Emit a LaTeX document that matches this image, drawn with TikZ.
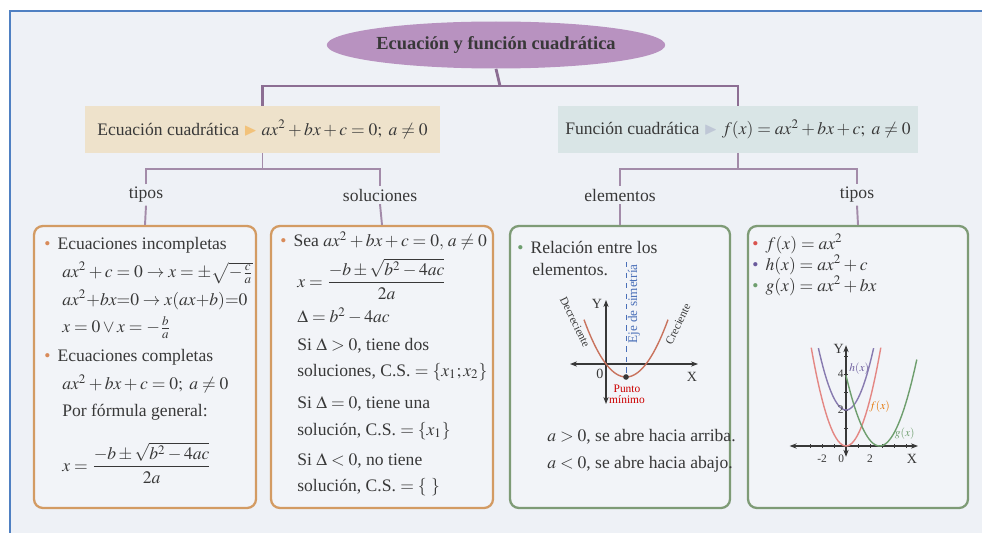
\documentclass[tikz,border=0pt]{standalone}
\usepackage{mathptmx}
\usepackage{amsmath}
\usepackage{amssymb}
\usepackage{fontspec}
\setmainfont{Liberation Serif}
\usepackage{xcolor}
\usetikzlibrary{arrows.meta, shapes.geometric, positioning}

\definecolor{paper}{HTML}{EEF1F6}
\definecolor{framec}{HTML}{4F80C2}
\definecolor{ink}{HTML}{383838}
\definecolor{titlec}{HTML}{B892C0}
\definecolor{linkc}{HTML}{8C6E93}
\definecolor{ecuc}{HTML}{EEE2CB}
\definecolor{func}{HTML}{D9E5E6}
\definecolor{orc}{HTML}{D39B63}
\definecolor{grc}{HTML}{7E9B76}
\definecolor{boxc}{HTML}{F2F4F8}
\definecolor{bulor}{HTML}{D98B5A}
\definecolor{bulgr}{HTML}{6E9E6E}
\definecolor{bulred}{HTML}{D9534F}
\definecolor{bulpu}{HTML}{6A5A9C}
\definecolor{mkor}{HTML}{F2C27A}
\definecolor{mkgr}{HTML}{BFC7D6}
\definecolor{parc}{HTML}{C9735E}
\definecolor{ejec}{HTML}{4A6FB8}

\tikzset{
  link/.style={draw=linkc, line width=1.6pt},
  link2/.style={draw=linkc!80, line width=1.1pt},
  titlenode/.style={ellipse, fill=titlec, minimum width=6.3cm, minimum height=0.94cm, inner sep=0pt,
    font=\fontsize{10.5}{12}\selectfont, text=ink},
  topbox/.style={minimum height=0.94cm, inner sep=0pt, font=\fontsize{10}{12}\selectfont, text=ink},
  lbl/.style={font=\fontsize{10}{12}\selectfont, text=ink, inner sep=1.5pt},
  orbox/.style={draw=orc, line width=1.3pt, rounded corners=5pt, fill=boxc,
    minimum width=4.44cm, minimum height=5.64cm, inner sep=0pt},
  grbox/.style={draw=grc, line width=1.3pt, rounded corners=5pt, fill=boxc,
    minimum width=4.4cm, minimum height=5.64cm, inner sep=0pt},
  txt/.style={font=\fontsize{10}{12}\selectfont, text=ink, anchor=west, inner sep=0pt},
  small/.style={font=\fontsize{6.5}{7}\selectfont, inner sep=0.5pt, text=ink},
  axlbl/.style={font=\fontsize{8}{9}\selectfont, inner sep=0.5pt, text=ink},
  axis/.style={draw=ink, line width=0.6pt},
}
\newcommand{\bul}[1]{\textcolor{#1}{\textbullet}\hspace{4pt}}

\begin{document}
\begin{tikzpicture}[x=0.02cm, y=-0.02cm]
\useasboundingbox (0,0) rectangle (982,533);
% Background
\fill[white] (0,0) rectangle (982,533);
\fill[paper] (10,11) rectangle (982,533);
\draw[framec, line width=1.3pt] (10,533) -- (10,11) -- (982,11);

% Title and main branches
\node[titlenode] (title) at (496,45) {\textbf{Ecuación y función cuadrática}};
\node[topbox, fill=ecuc, minimum width=7.1cm] (ecu) at (262.5,129.5)
  {Ecuación cuadrática \textcolor{mkor}{$\blacktriangleright$} $ax^2+bx+c=0;\ a\neq0$};
\node[topbox, fill=func, minimum width=7.2cm] (fun) at (738,129.5)
  {Función cuadrática \textcolor{mkgr}{$\blacktriangleright$} $f(x)=ax^2+bx+c;\ a\neq0$};
\coordinate (tbar) at (500,86);
\draw[link] (title.south) -- (tbar);
\draw[link] (ecu.north) |- (tbar) -| (fun.north);

% Second level labels
\node[lbl] (tip1) at (146,195) {tipos};
\node[lbl] (sol) at (380,195) {soluciones};
\node[lbl] (ele) at (620,195) {elementos};
\node[lbl] (tip2) at (857,195) {tipos};
\coordinate (lbar) at (262.5,169);
\coordinate (rbar) at (738,169);
\draw[link2] (ecu.south) -- (lbar);
\draw[link2] (tip1.north) |- (lbar) -| (sol.north);
\draw[link2] (fun.south) -- (rbar);
\draw[link2] (ele.north) |- (rbar) -| (tip2.north);

% Boxes
\node[orbox] (box1) at (145,367) {};
\node[orbox] (box2) at (382,367) {};
\node[grbox] (box3) at (620,367) {};
\node[grbox] (box4) at (858,367) {};
\draw[link2] (tip1.south) -- (box1.north);
\draw[link2] (sol.south) -- (box2.north);
\draw[link2] (ele.south) -- (box3.north);
\draw[link2] (tip2.south) -- (box4.north);

% Box 1
\node[txt] (inc) at (44,245) {\bul{bulor}Ecuaciones incompletas};
\node[txt] (incA) at (62,273) {$ax^2+c=0\to x=\pm\sqrt{-\frac{c}{a}}$};
\node[txt] (incB) at (62,300) {$ax^2{+}bx{=}0\to x(ax{+}b){=}0$};
\node[txt] (incC) at (62,328) {$x=0\vee x=-\frac{b}{a}$};
\node[txt] (comp) at (44,357) {\bul{bulor}Ecuaciones completas};
\node[txt] (compA) at (62,384) {$ax^2+bx+c=0;\ a\neq0$};
\node[txt] (gen) at (62,412) {Por fórmula general:};
\node[txt] (genF) at (62,463) {$x=\dfrac{-b\pm\sqrt{b^2-4ac}}{2a}$};

% Box 2
\node[txt] (sea) at (280,241) {\bul{bulor}Sea $ax^2+bx+c=0,\, a\neq0$};
\node[txt] (seaF) at (297,279) {$x=\dfrac{-b\pm\sqrt{b^2-4ac}}{2a}$};
\node[txt] (disc) at (297,316) {$\Delta=b^2-4ac$};
\node[txt] (pos1) at (297,346) {Si $\Delta>0$, tiene dos};
\node[txt] (pos2) at (297,372) {soluciones, C.S. $=\{x_1;x_2\}$};
\node[txt] (zer1) at (297,404) {Si $\Delta=0$, tiene una};
\node[txt] (zer2) at (297,431) {solución, C.S. $=\{x_1\}$};
\node[txt] (neg1) at (297,461) {Si $\Delta<0$, no tiene};
\node[txt] (neg2) at (297,487) {solución, C.S. $=\{\ \}$};

% Box 3
\node[txt] (rel1) at (517,247) {\bul{bulgr}Relación entre los};
\node[txt] (rel2) at (532,270) {elementos.};
\draw[axis, {Stealth[length=4pt]}-{Stealth[length=4pt]}] (570,364) -- (698,364);
\draw[axis, {Stealth[length=4pt]}-{Stealth[length=4pt]}] (606,404) -- (606,300);
\draw[ejec, dashed, line width=0.5pt] (626,262) -- (626,377);
\draw[parc, line width=0.8pt] plot[domain=584:668, samples=40] (\x, {377-0.0325*(\x-626)*(\x-626)});
\fill[ink] (626,377) circle (1.6pt);
\node[axlbl] (yl3) at (597,304) {Y};
\node[axlbl] (xl3) at (692,377) {X};
\node[axlbl] (ol3) at (600,374) {0};
\node[small, rotate=90, text=ejec, font=\fontsize{7.5}{8}\selectfont] (eje) at (634,304) {Eje de simetría};
\node[small, rotate=-64] (dec) at (575,322) {Decreciente};
\node[small, rotate=64] (cre) at (678,324) {Creciente};
\node[small, text=red!80!black] (pm1) at (627,389) {Punto};
\node[small, text=red!80!black] (pm2) at (627,400) {mínimo};
\node[txt] (up) at (547,437) {$a>0$, se abre hacia arriba.};
\node[txt] (down) at (547,464) {$a<0$, se abre hacia abajo.};

% Box 4
\node[txt] (fx) at (752,244) {\bul{bulred}$f(x)=ax^2$};
\node[txt] (hx) at (752,265) {\bul{bulpu}$h(x)=ax^2+c$};
\node[txt] (gx) at (752,286) {\bul{bulgr}$g(x)=ax^2+bx$};
\begin{scope}[shift={(846,446)}, x=0.24cm, y=0.36cm]
  \draw[axis, {Stealth[length=4pt]}-{Stealth[length=4pt]}] (-4.7,0) -- (6,0);
  \draw[axis, {Stealth[length=4pt]}-{Stealth[length=4pt]}] (0,-0.6) -- (0,5.6);
  \foreach \i in {-3,...,5} \draw[ink, line width=0.4pt] (\i,0.1) -- (\i,-0.1);
  \foreach \j in {1,...,5} \draw[ink, line width=0.4pt] (-0.15,\j) -- (0.15,\j);
  \draw[bulred!70, line width=0.8pt] plot[domain=-2.9:2.9, samples=40] (\x, {0.65*\x*\x});
  \draw[bulpu!80, line width=0.8pt] plot[domain=-2.3:2.3, samples=40] (\x, {2+0.65*\x*\x});
  \draw[bulgr, line width=0.8pt] plot[domain=0:5.9, samples=40] (\x, {0.5*(\x-2.8)*(\x-2.8)});
  \node[axlbl] (yl4) at (-0.6,5.4) {Y};
  \node[axlbl] (xl4) at (5.5,-0.7) {X};
  \node[small] (t4) at (-0.45,4) {4};
  \node[small] (t2) at (-0.45,2) {2};
  \node[small] (m2) at (-2,-0.7) {-2};
  \node[small] (z4) at (-0.4,-0.7) {0};
  \node[small] (p2) at (2,-0.7) {2};
  \node[small, text=bulpu] (hl) at (1.1,4.3) {$h(x)$};
  \node[small, text=orange!90!black] (fl) at (2.8,2.2) {$f(x)$};
  \node[small, text=bulgr] (gl) at (4.9,0.7) {$g(x)$};
\end{scope}
\end{tikzpicture}
\end{document}
